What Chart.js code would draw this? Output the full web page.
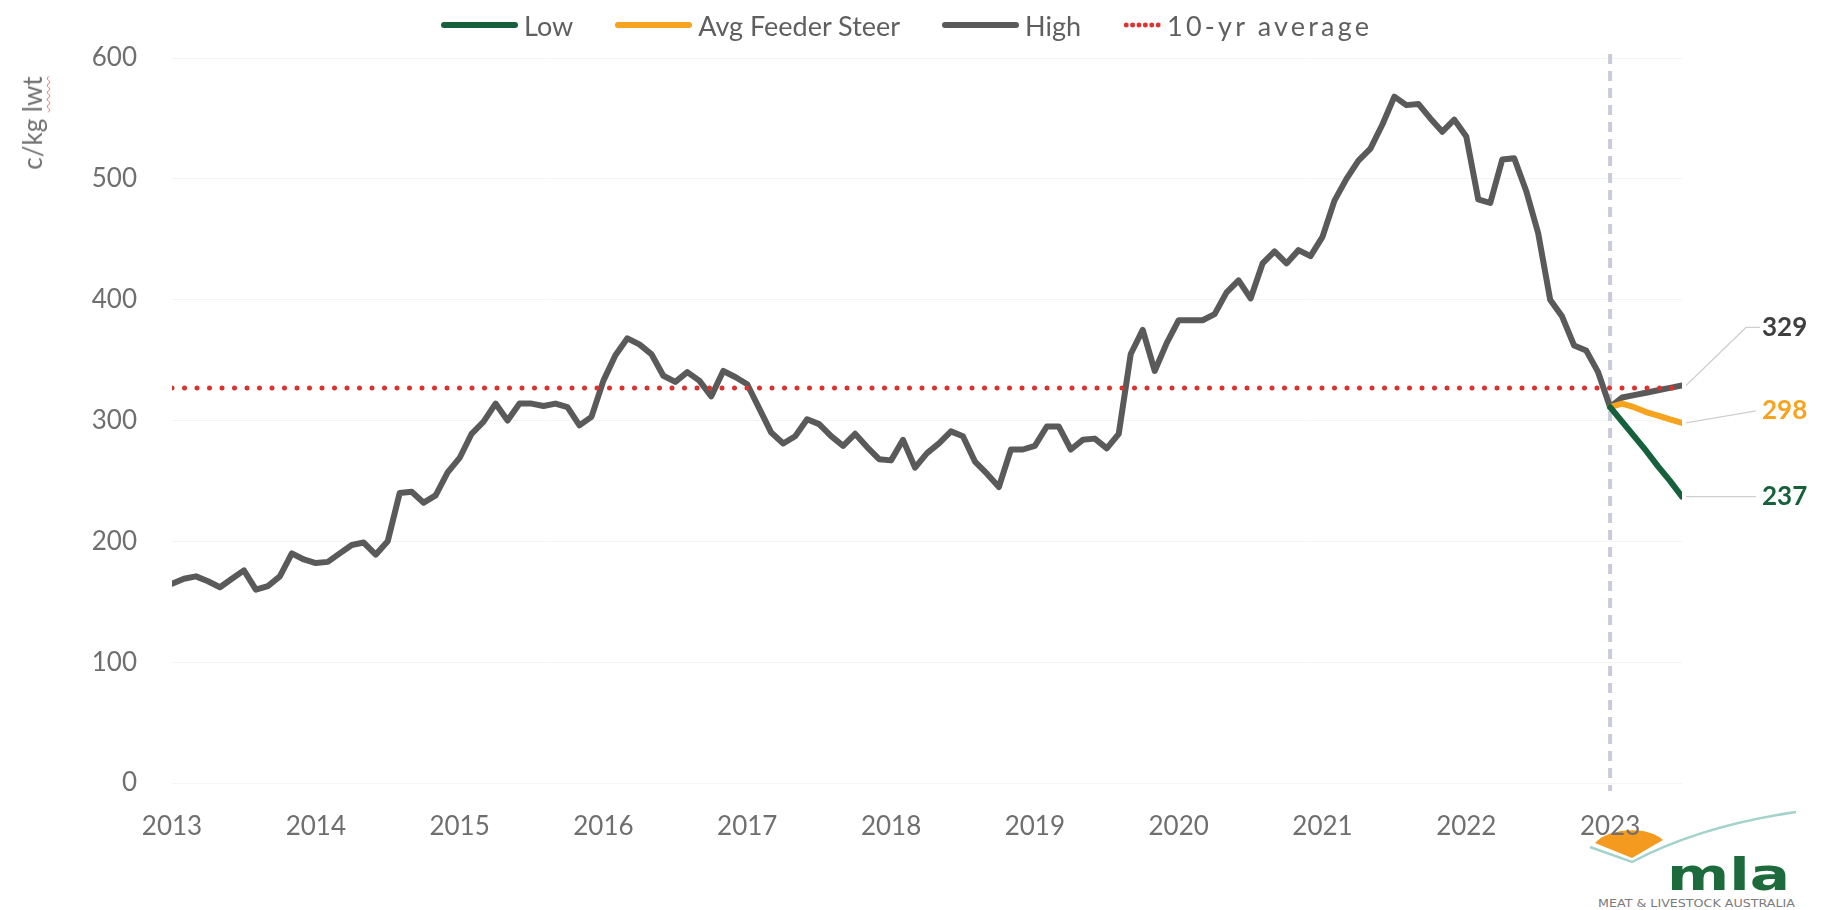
<!DOCTYPE html>
<html>
<head>
<meta charset="utf-8">
<script src="https://cdn.jsdelivr.net/npm/chart.js@4"></script>
<style>
  html, body { margin: 0; padding: 0; background: #fff; }
  #wrap { position: relative; width: 1823px; height: 910px; overflow: hidden; font-family: Lato, "Open Sans", sans-serif; }
  #logo { position: absolute; left: 0; top: 0; z-index: 0; }
  #chartBox { position: absolute; left: 0; top: 0; width: 1823px; height: 910px; z-index: 1; }
  #legend { position: absolute; left: 441px; top: 8px; height: 34px; display: flex; align-items: center; z-index: 2; color: #5f5f5f; font-size: 27px; }
  #legend .item { display: flex; align-items: center; margin-right: 42px; }
  #legend .key { display: inline-block; width: 77px; height: 6px; border-radius: 3px; margin-right: 6px; }
  #legend .dots { width: 38px; height: 6px; border-radius: 0; background: radial-gradient(circle, #d9322f 2.2px, transparent 2.8px) 0 0 / 6.4px 6px repeat-x; }
  #legend .wide { letter-spacing: 3.2px; }
  #ytitle { position: absolute; left: 32px; top: 123px; transform: translate(-50%, -50%) rotate(-90deg); white-space: nowrap; color: #6f6f6f; font-size: 26px; z-index: 2; }
  #ytitle span { text-decoration: underline wavy #e06464; text-decoration-thickness: 1px; text-underline-offset: 4px; }
</style>
</head>
<body>
<div id="wrap">
  <svg id="logo" width="1823" height="910">
    <path d="M1590,847 L1632,862 Q1700,826 1796,812" stroke="#a3d3cb" stroke-width="2.5" fill="none"/>
    <path d="M1595,843 C1607,828 1648,825 1663,840 L1632,858 Z" fill="#f49b1f"/>
    <text x="1667" y="890" font-family="DejaVu Sans" font-weight="bold" font-size="45" fill="#1d6b3d" textLength="123" lengthAdjust="spacingAndGlyphs">mla</text>
    <text x="1598" y="907" font-family="DejaVu Sans" font-size="10" fill="#7b7b7b" textLength="197" lengthAdjust="spacingAndGlyphs">MEAT &amp; LIVESTOCK AUSTRALIA</text>
  </svg>
  <div id="chartBox"><canvas id="myChart"></canvas></div>
  <div id="legend">
    <div class="item"><span class="key" style="background:#17603c"></span>Low</div>
    <div class="item"><span class="key" style="background:#f6a31f"></span>Avg Feeder Steer</div>
    <div class="item"><span class="key" style="background:#5a5a5a"></span>High</div>
    <div class="item"><span class="key dots"></span><span class="wide">10-yr average</span></div>
  </div>
  <div id="ytitle">c/kg <span>lwt</span></div>
</div>

<script>
// monthly series, Jan 2013 -> Dec 2022 (c/kg lwt)
const startYear = 2013;
const history = [
  165, 169, 171, 167, 162, 169, 176, 160, 163, 171, 190, 185,
  182, 183, 190, 197, 199, 189, 200, 240, 241, 232, 238, 257,
  269, 289, 299, 314, 300, 314, 314, 312, 314, 311, 296, 303,
  333, 354, 368, 363, 355, 337, 332, 340, 333, 320, 341, 336,
  330, 310, 290, 281, 287, 301, 297, 287, 279, 289, 278, 268,
  267, 284, 261, 273, 281, 291, 287, 266, 256, 245, 276, 276,
  279, 295, 295, 276, 284, 285, 277, 289, 355, 375, 341, 364,
  383, 383, 383, 388, 406, 416, 401, 430, 440, 430, 441, 436,
  452, 482, 500, 515, 525, 545, 568, 561, 562, 550, 539, 549,
  535, 483, 480, 516, 517, 490, 455, 400, 386, 362, 358, 340
];

// forecasts, Jan 2023 -> Jul 2023
const forecastStart = 2023;
const highForecast = [311, 319, 321, 323, 325, 327, 329];
const avgForecast = [311, 314, 311, 307, 304, 301, 298];
const lowForecast = [311, 299, 287, 275, 262, 250, 237];

const tenYearAvg = 327;

// axis ticks
const tickYears = [2013, 2014, 2015, 2016, 2017, 2018, 2019, 2020, 2021, 2022, 2023];
const yTicks = [0, 100, 200, 300, 400, 500, 600];
const xMin = 2013;
const xMax = 2023.5;

const GREEN = "#17603c";
const ORANGE = "#f6a31f";
const GREY = "#5a5a5a";
const RED = "#d9322f";
const TICK = "#6f6f6f";

const toPoints = (arr, start) => arr.map((v, i) => ({ x: start + i / 12, y: v }));

const highPoints = toPoints(history, startYear).concat(toPoints(highForecast, forecastStart));

// dashed divider at the start of the forecast
const dividerLine = {
  id: "dividerLine",
  beforeDatasetsDraw(chart) {
    const { ctx, chartArea, scales } = chart;
    const x = scales.x.getPixelForValue(forecastStart);
    ctx.save();
    ctx.strokeStyle = "#c9cbda";
    ctx.lineWidth = 4;
    ctx.setLineDash([10, 7]);
    ctx.beginPath();
    ctx.moveTo(x, chartArea.top - 4);
    ctx.lineTo(x, chartArea.bottom + 8);
    ctx.stroke();
    ctx.restore();
  }
};

// value labels at the end of each forecast line
const endLabels = {
  id: "endLabels",
  afterDatasetsDraw(chart) {
    const { ctx, scales } = chart;
    const items = [
      { data: highForecast, color: "#3f3f3f", dy: -58, bend: true },
      { data: avgForecast, color: ORANGE, dy: -12 },
      { data: lowForecast, color: GREEN, dy: 0 }
    ];
    ctx.save();
    items.forEach((it) => {
      const v = it.data[it.data.length - 1];
      const px = scales.x.getPixelForValue(forecastStart + (it.data.length - 1) / 12);
      const py = scales.y.getPixelForValue(v);
      ctx.strokeStyle = "#cfcfcf";
      ctx.lineWidth = 1.2;
      ctx.beginPath();
      ctx.moveTo(px + 4, py);
      if (it.bend) {
        ctx.lineTo(px + 64, py + it.dy);
        ctx.lineTo(px + 78, py + it.dy);
      } else {
        ctx.lineTo(px + 74, py + it.dy);
      }
      ctx.stroke();
      ctx.fillStyle = it.color;
      ctx.font = "bold 26px Lato, 'Open Sans', sans-serif";
      ctx.textAlign = "left";
      ctx.textBaseline = "middle";
      ctx.fillText(String(v), px + 80, py + it.dy);
    });
    ctx.restore();
  }
};

const lineBase = {
  pointRadius: 0,
  borderWidth: 6,
  tension: 0,
  borderJoinStyle: "round",
  borderCapStyle: "round",
  fill: false
};

new Chart(document.getElementById("myChart"), {
  type: "line",
  data: {
    datasets: [
      {
        ...lineBase,
        label: "10-yr average",
        data: [{ x: xMin, y: tenYearAvg }, { x: xMax, y: tenYearAvg }],
        borderColor: RED,
        borderWidth: 5,
        borderDash: [0, 12.5]
      },
      { ...lineBase, label: "Low", data: toPoints(lowForecast, forecastStart), borderColor: GREEN },
      { ...lineBase, label: "Avg Feeder Steer", data: toPoints(avgForecast, forecastStart), borderColor: ORANGE },
      { ...lineBase, label: "High", data: highPoints, borderColor: GREY }
    ]
  },
  options: {
    responsive: true,
    maintainAspectRatio: false,
    animation: false,
    events: [],
    layout: { padding: { top: 58, right: 141, left: 0, bottom: 0 } },
    plugins: {
      legend: { display: false },
      tooltip: { enabled: false }
    },
    scales: {
      x: {
        type: "linear",
        min: xMin,
        max: xMax,
        afterBuildTicks: (scale) => { scale.ticks = tickYears.map((v) => ({ value: v })); },
        afterFit: (scale) => { scale.height = 127; },
        ticks: {
          padding: 20,
          color: TICK,
          font: { family: "Lato", size: 26 },
          maxRotation: 0,
          autoSkip: false,
          callback: (v) => String(v)
        },
        grid: { display: false },
        border: { display: false }
      },
      y: {
        min: 0,
        max: 600,
        afterBuildTicks: (scale) => { scale.ticks = yTicks.map((v) => ({ value: v })); },
        afterFit: (scale) => { scale.width = 172; },
        ticks: {
          padding: 35,
          color: TICK,
          font: { family: "Lato", size: 26 }
        },
        grid: { color: "rgba(0,0,0,0.045)", drawTicks: false },
        border: { display: false }
      }
    }
  },
  plugins: [dividerLine, endLabels]
});
</script>
</body>
</html>
